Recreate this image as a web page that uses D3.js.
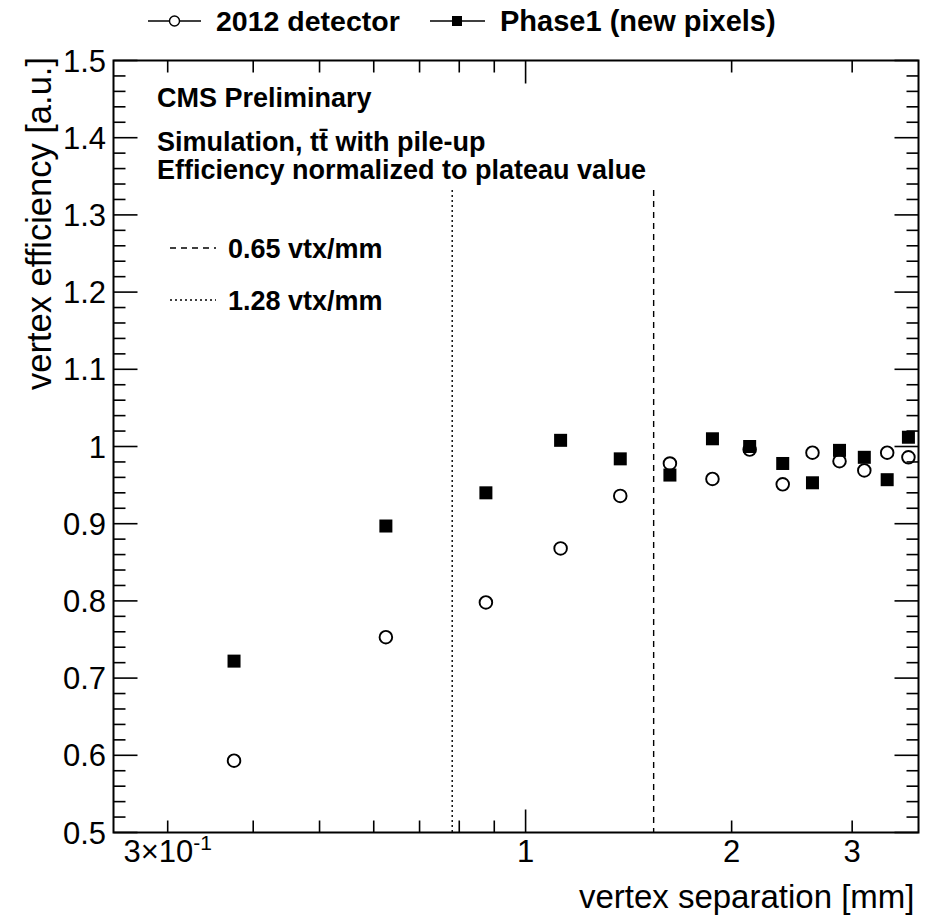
<!DOCTYPE html>
<html>
<head>
<meta charset="utf-8">
<script src="https://cdn.jsdelivr.net/npm/d3@7"></script>
<style>
  html, body { margin: 0; padding: 0; background: #fff; }
  svg { display: block; font-family: "Liberation Sans", Arial, Helvetica, sans-serif; }
</style>
</head>
<body>
<svg id="chart" width="929" height="918"></svg>
<script>
// ---- data ----
const separation = [0.375, 0.625, 0.875, 1.125, 1.375, 1.625, 1.875, 2.125, 2.375, 2.625, 2.875, 3.125, 3.375, 3.625];
const eff2012 =   [0.593, 0.753, 0.798, 0.868, 0.936, 0.978, 0.958, 0.996, 0.951, 0.992, 0.981, 0.969, 0.992, 0.986];
const effPhase1 = [0.722, 0.897, 0.940, 1.008, 0.984, 0.963, 1.010, 1.000, 0.978, 0.953, 0.995, 0.986, 0.957, 1.012];
const seriesNames = ["2012 detector", "Phase1 (new pixels)"];
const yTicks = [0.5, 0.6, 0.7, 0.8, 0.9, 1.0, 1.1, 1.2, 1.3, 1.4, 1.5];
const yTickLabels = ["0.5", "0.6", "0.7", "0.8", "0.9", "1", "1.1", "1.2", "1.3", "1.4", "1.5"];
const xMinorTicks = [0.3, 0.4, 0.5, 0.6, 0.7, 0.8, 0.9, 2, 3];
const xMajorTicks = [1];
const xLabelTicks = [0.3, 1, 2, 3];
const densities = [0.65, 1.28];            // vtx/mm
const densityLabels = ["0.65 vtx/mm", "1.28 vtx/mm"];
const textLines = ["CMS Preliminary", "Simulation, tt\u0304 with pile-up", "Efficiency normalized to plateau value"];

// ---- scales ----
const svg = d3.select("#chart");
const L = 113.5, R = 918.5, T = 60.5, B = 832.5;
const x = d3.scaleLog().domain([0.25, 3.75]).range([L, R]);
const y = d3.scaleLinear().domain([0.5, 1.5]).range([B, T]);

svg.append("rect").attr("width", 929).attr("height", 918).attr("fill", "#fff");

const g = svg.append("g");

// ---- ticks ----
const yMinor = d3.range(0.5, 1.5001, 0.02).map(v => +v.toFixed(2));
const tickStroke = 1.6;
yMinor.forEach(v => {
  const major = Math.abs(v * 10 - Math.round(v * 10)) < 1e-6;
  const len = major ? 24 : 12;
  g.append("line").attr("x1", L).attr("x2", L + len).attr("y1", y(v)).attr("y2", y(v))
    .attr("stroke", "#000").attr("stroke-width", tickStroke);
  g.append("line").attr("x1", R).attr("x2", R - len).attr("y1", y(v)).attr("y2", y(v))
    .attr("stroke", "#000").attr("stroke-width", tickStroke);
});
xMinorTicks.concat(xMajorTicks).forEach(v => {
  const len = xMajorTicks.includes(v) ? 23 : 12;
  g.append("line").attr("x1", x(v)).attr("x2", x(v)).attr("y1", B).attr("y2", B - len)
    .attr("stroke", "#000").attr("stroke-width", tickStroke);
  g.append("line").attr("x1", x(v)).attr("x2", x(v)).attr("y1", T).attr("y2", T + len)
    .attr("stroke", "#000").attr("stroke-width", tickStroke);
});

// frame
g.append("rect").attr("x", L).attr("y", T).attr("width", R - L).attr("height", B - T)
  .attr("fill", "none").attr("stroke", "#000").attr("stroke-width", 2);

// y tick labels
yTicks.forEach((v, i) => {
  g.append("text").attr("x", 106).attr("y", y(v)).attr("dy", "0.36em")
    .attr("text-anchor", "end").attr("font-size", 31).text(yTickLabels[i]);
});
// x tick labels
xLabelTicks.forEach(v => {
  const t = g.append("text").attr("x", x(v)).attr("y", 862).attr("text-anchor", "middle").attr("font-size", 31);
  if (v === 0.3) {
    t.append("tspan").text("3\u00d710");
    t.append("tspan").attr("font-size", 21).attr("dy", -12).text("-1");
  } else {
    t.text(d3.format("d")(v));
  }
});

// axis titles
g.append("text").attr("x", R - 4).attr("y", 908).attr("text-anchor", "end").attr("font-size", 33)
  .text("vertex separation [mm]");
g.append("text").attr("transform", `translate(51, 57) rotate(-90)`).attr("text-anchor", "end")
  .attr("font-size", 34.5).text("vertex efficiency [a.u.]");

// ---- density lines ----
const dashes = ["6,5", "2,3"];
densities.forEach((d, i) => {
  g.append("line").attr("x1", x(1 / d)).attr("x2", x(1 / d)).attr("y1", 190).attr("y2", B)
    .attr("stroke", "#000").attr("stroke-width", 1.4).attr("stroke-dasharray", dashes[i]);
});
densityLabels.forEach((lab, i) => {
  const yy = 248 + i * 52;
  g.append("line").attr("x1", 170).attr("x2", 216).attr("y1", yy).attr("y2", yy)
    .attr("stroke", "#000").attr("stroke-width", 1.4).attr("stroke-dasharray", dashes[i]);
  g.append("text").attr("x", 228).attr("y", yy + 10).attr("font-size", 27).attr("font-weight", "bold").text(lab);
});

// header text
[107, 151, 179].forEach((yy, i) => {
  g.append("text").attr("x", 157).attr("y", yy).attr("font-size", 27).attr("font-weight", "bold").text(textLines[i]);
});

// ---- data markers ----
const pts2012 = separation.map((s, i) => ({ s, v: eff2012[i] }));
const ptsP1 = separation.map((s, i) => ({ s, v: effPhase1[i] }));

g.selectAll(".p1").data(ptsP1).enter().append("rect")
  .attr("x", d => x(d.s) - 6.5).attr("y", d => y(d.v) - 6.5)
  .attr("width", 13).attr("height", 13).attr("fill", "#000");

g.selectAll(".c12").data(pts2012).enter().append("circle")
  .attr("cx", d => x(d.s)).attr("cy", d => y(d.v)).attr("r", 6.3)
  .attr("fill", "none").attr("stroke", "#000").attr("stroke-width", 1.9);

// ---- legend ----
const legY = 21;
g.append("line").attr("x1", 148).attr("x2", 201).attr("y1", legY).attr("y2", legY).attr("stroke", "#000").attr("stroke-width", 1.6);
g.append("circle").attr("cx", 174.5).attr("cy", legY).attr("r", 5).attr("fill", "#fff").attr("stroke", "#000").attr("stroke-width", 1.4);
g.append("text").attr("x", 216).attr("y", 31).attr("font-size", 28.5).attr("font-weight", "bold").text(seriesNames[0]);
g.append("line").attr("x1", 430).attr("x2", 485).attr("y1", legY).attr("y2", legY).attr("stroke", "#000").attr("stroke-width", 1.6);
g.append("rect").attr("x", 452).attr("y", legY - 5).attr("width", 10).attr("height", 10).attr("fill", "#000");
g.append("text").attr("x", 500).attr("y", 31).attr("font-size", 29).attr("font-weight", "bold").text(seriesNames[1]);
</script>
</body>
</html>
